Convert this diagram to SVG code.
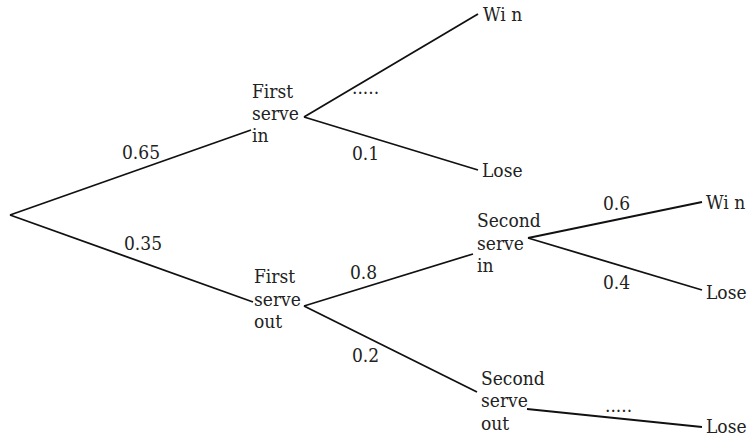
<svg xmlns="http://www.w3.org/2000/svg" width="748" height="436" viewBox="0 0 748 436">
<style>
text{font-family:'DejaVu Serif Condensed','DejaVu Serif',serif;font-stretch:condensed;font-size:19px;fill:#222}
.c line{stroke:#111;stroke-width:1.8;fill:none}
</style>
<rect width="748" height="436" fill="#fff"/>
<g class="c" id="connectors">
<line x1="10" y1="215" x2="251" y2="130"/>
<line x1="10" y1="215" x2="253" y2="302"/>
<line x1="304" y1="117" x2="478" y2="14"/>
<line x1="304" y1="117" x2="478" y2="170"/>
<line x1="304" y1="306" x2="473" y2="254"/>
<line x1="304" y1="306" x2="477" y2="392"/>
<line x1="528" y1="238" x2="702" y2="202"/>
<line x1="528" y1="238" x2="702" y2="290"/>
<line x1="527" y1="409" x2="702" y2="427"/>
</g>
<g id="labels">
<text x="122" y="159">0.65</text>
<text x="124" y="250">0.35</text>
<text x="352" y="94">.....</text>
<text x="352" y="160">0.1</text>
<text x="350" y="279">0.8</text>
<text x="352" y="362">0.2</text>
<text x="603" y="210">0.6</text>
<text x="603" y="289">0.4</text>
<text x="605" y="412">.....</text>
</g>
<g id="n-fsi"><text x="252" y="98">First</text><text x="252" y="120">serve</text><text x="252" y="142">in</text></g>
<g id="n-fso"><text x="254" y="283">First</text><text x="254" y="306">serve</text><text x="254" y="328">out</text></g>
<g id="n-ssi"><text x="477" y="227">Second</text><text x="477" y="250">serve</text><text x="477" y="272">in</text></g>
<g id="n-sso"><text x="481" y="385">Second</text><text x="481" y="407">serve</text><text x="481" y="430">out</text></g>
<g id="n-win1"><text x="483" y="21">Wi n</text></g>
<g id="n-lose1"><text x="482" y="177">Lose</text></g>
<g id="n-win2"><text x="706" y="209">Wi n</text></g>
<g id="n-lose2"><text x="706" y="299">Lose</text></g>
<g id="n-lose3"><text x="706" y="433">Lose</text></g>
</svg>
